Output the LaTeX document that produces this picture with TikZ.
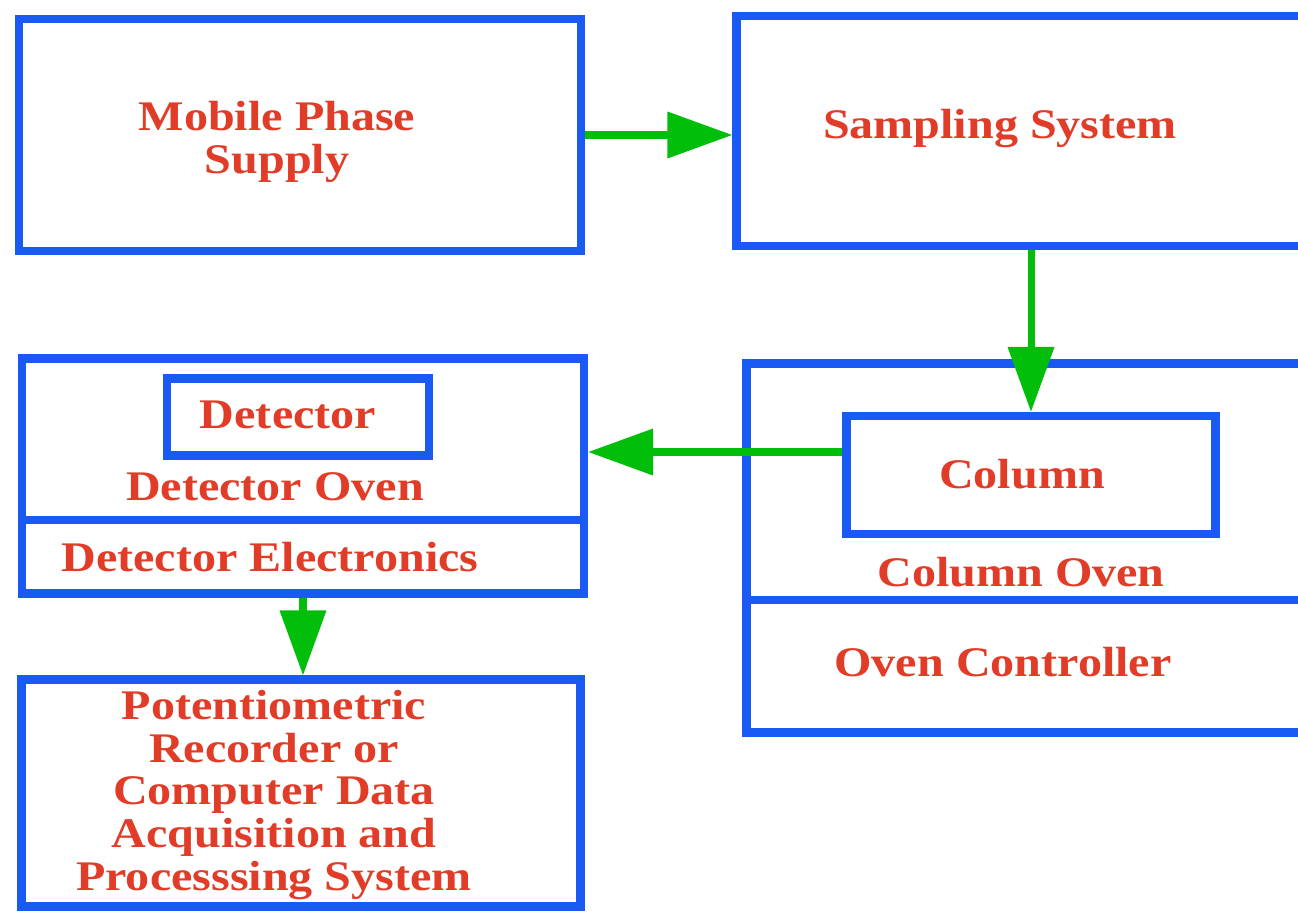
\documentclass[tikz,border=0pt]{standalone}
\usepackage{fontspec}
\setmainfont{Liberation Serif}[FakeStretch=1.14]
\usetikzlibrary{arrows.meta}

\definecolor{boxblue}{RGB}{25,90,245}
\definecolor{flowgreen}{RGB}{0,190,10}
\definecolor{textred}{RGB}{225,60,40}

\begin{document}
\begin{tikzpicture}[
  x=0.1mm,y=-0.1mm,
  font=\fontsize{12}{12.1}\selectfont\bfseries,
  block/.style={draw=boxblue,line width=2.3pt,inner sep=0pt},
  divider/.style={draw=boxblue,line width=2.3pt},
  txt/.style={text=textred,align=center,inner sep=0pt},
  flow/.style={-{Triangle[length=0.65cm,width=0.45cm]},draw=flowgreen,line width=2pt}]

  % Fix the frame of the picture
  \useasboundingbox (0,0) rectangle (1298,914);
  \clip (0,0) rectangle (1298,914);

  % The blocks
  \node[block,minimum width=5.62cm,minimum height=2.32cm] (mobile) at (300,135) {};
  \node[block,minimum width=5.69cm,minimum height=2.30cm] (sampling) at (1021,131) {};
  \node[block,minimum width=5.62cm,minimum height=2.35cm] (detoven) at (303,476) {};
  \node[block,minimum width=2.62cm,minimum height=0.77cm] (detector) at (298,417) {};
  \node[block,minimum width=5.59cm,minimum height=3.69cm] (coloven) at (1026,548) {};
  \node[block,minimum width=3.69cm,minimum height=1.18cm] (column) at (1031,475) {};
  \node[block,minimum width=5.59cm,minimum height=2.27cm] (recorder) at (301,793) {};

  % Split lines of the oven blocks
  \coordinate (detsplit) at (0,520);
  \coordinate (colsplit) at (0,600);
  \draw[divider] (detoven.west |- detsplit) -- (detoven.east |- detsplit);
  \draw[divider] (coloven.west |- colsplit) -- (coloven.east |- colsplit);

  % The texts
  \node[txt] (mobiletxt) at (277,142) {Mobile Phase\\Supply};
  \node[txt] (samplingtxt) at (1000,129) {Sampling System};
  \node[txt] (detectortxt) at (288,415) {Detector};
  \node[txt] (detoventxt) at (275,487) {Detector Oven};
  \node[txt] (detelectxt) at (270,557) {Detector Electronics};
  \node[txt] (columntxt) at (1022,474) {Column};
  \node[txt] (coloventxt) at (1021,572) {Column Oven};
  \node[txt] (controltxt) at (1003,662) {Oven Controller};
  \node[txt] (recordertxt) at (274,795) {Potentiometric\\Recorder or\\Computer Data\\Acquisition and\\Processsing System};

  % The flow between the blocks
  \coordinate (c2d) at (0,452);
  \draw[flow] (mobile.east) -- (mobile.east -| sampling.west);
  \draw[flow] (column.north |- sampling.south) -- (column.north);
  \draw[flow] (column.west |- c2d) -- (detoven.east |- c2d);
  \draw[flow] (detoven.south) -- (detoven.south |- recorder.north);

\end{tikzpicture}
\end{document}
